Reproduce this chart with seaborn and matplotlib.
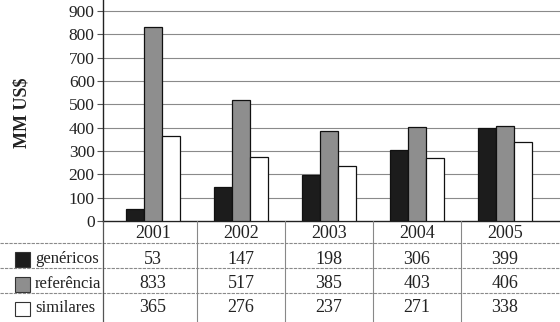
import matplotlib
matplotlib.use("Agg")
import matplotlib.pyplot as plt
from matplotlib.lines import Line2D
from matplotlib.patches import Rectangle
from matplotlib.transforms import blended_transform_factory
import seaborn as sns
import pandas as pd

years = ["2001", "2002", "2003", "2004", "2005"]
series = ["genéricos", "referência", "similares"]
genericos = [53, 147, 198, 306, 399]
referencia = [833, 517, 385, 403, 406]
similares = [365, 276, 237, 271, 338]
yticks = [0, 100, 200, 300, 400, 500, 600, 700, 800, 900]
colors = ["#1c1c1c", "#8e8e8e", "#ffffff"]

rows = []
for s, vals in zip(series, [genericos, referencia, similares]):
    for y, v in zip(years, vals):
        rows.append({"ano": y, "serie": s, "valor": v})
df = pd.DataFrame(rows)

sns.set_theme(style="white")
plt.rcParams["font.family"] = ["Liberation Serif", "DejaVu Serif"]

W, H = 560, 322
fig = plt.figure(figsize=(W / 100, H / 100), dpi=100)
ax = fig.add_axes([103 / W, 1 - 221 / H, 1 - 103 / W, 221 / H])

sns.barplot(data=df, x="ano", y="valor", hue="serie", order=years,
            hue_order=series, palette=colors, width=0.62, gap=0,
            edgecolor="#111111", linewidth=0.9, saturation=1,
            legend=False, ax=ax, zorder=3)

ax.set_xlim(-50 / 88, 407 / 88)
ax.set_ylim(0, 947)
ax.set_yticks(yticks)
ax.set_yticklabels([str(t) for t in yticks], fontsize=12.5, color="#222222",
                   family=["Liberation Serif"])
ax.set_xticks([])
ax.set_xlabel("")
ax.set_ylabel("")
ax.tick_params(axis="y", which="both", direction="out", length=4, width=0.8,
               color="#555555", left=True, pad=2)
for t in yticks[1:]:
    ax.axhline(t, color="#8a8a8a", lw=0.8, zorder=1)
for side in ["top", "right"]:
    ax.spines[side].set_visible(False)
ax.spines["left"].set_color("#222222")
ax.spines["left"].set_linewidth(1.0)
ax.spines["bottom"].set_color("#222222")
ax.spines["bottom"].set_linewidth(1.0)

fig.text(22 / W, 1 - 113 / H, "MM US$", rotation=90, fontsize=13,
         fontweight="bold", ha="center", va="center", color="#222222",
         family=["Liberation Serif"])

# table below the axis
tr = blended_transform_factory(ax.transData, fig.transFigure)
def fy(py):
    return 1 - py / H

for py in [243, 268, 293]:
    fig.add_artist(Line2D([0, 1], [fy(py), fy(py)], transform=fig.transFigure,
                          color="#8a8a8a", lw=0.8, ls=(0, (3, 1))))
fig.add_artist(Line2D([103 / W, 103 / W], [0, fy(221)], transform=fig.transFigure,
                      color="#555555", lw=0.9))
for xb in [0.5, 1.5, 2.5, 3.5]:
    fig.add_artist(Line2D([xb, xb], [0, fy(221)], transform=tr,
                          color="#888888", lw=0.8))

for i, y in enumerate(years):
    fig.text(i, fy(234), y, transform=tr, ha="center", va="center",
             fontsize=13, color="#222222", family=["Liberation Serif"])

row_y = [259, 284, 308]
sw_y = [(252, 267), (277, 292), (302, 316)]
for s, vals, col, ry, (y0, y1) in zip(series, [genericos, referencia, similares],
                                       colors, row_y, sw_y):
    fig.add_artist(Rectangle((15 / W, fy(y1)), 15 / W, (y1 - y0) / H,
                             transform=fig.transFigure, facecolor=col,
                             edgecolor="#333333", lw=0.8))
    fig.text(35 / W, fy(ry), s, ha="left", va="center", fontsize=12,
             color="#222222", family=["Liberation Serif"])
    for i, v in enumerate(vals):
        fig.text(i, fy(ry), str(v), transform=tr, ha="center", va="center",
                 fontsize=13, color="#222222", family=["Liberation Serif"])

fig.savefig("out.png", dpi=100)
